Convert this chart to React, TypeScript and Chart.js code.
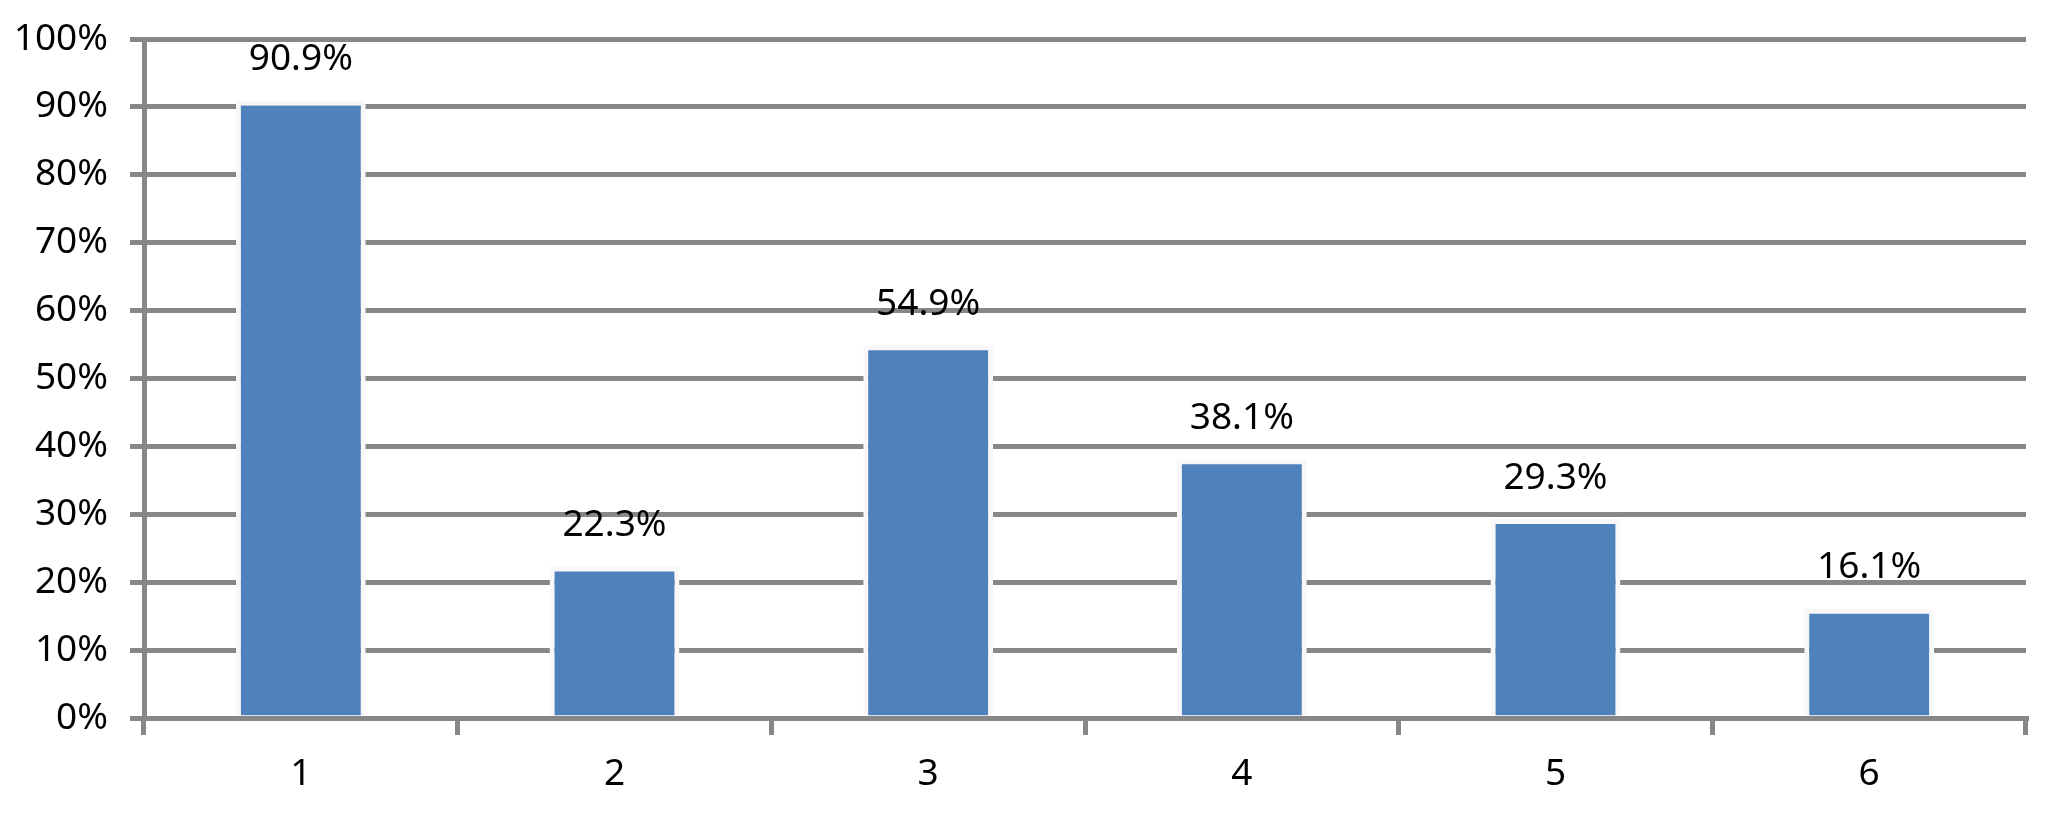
import React, { useEffect, useRef } from "react";
import { Chart, registerables } from "chart.js";

Chart.register(...registerables);

const categories = ["1", "2", "3", "4", "5", "6"];
const values = [90.9, 22.3, 54.9, 38.1, 29.3, 16.1];
const yTicks = [0, 10, 20, 30, 40, 50, 60, 70, 80, 90, 100];

const FONT = "'Noto Sans', 'Open Sans', sans-serif";
const GRID = "#878787";

const valueLabels = {
  id: "valueLabels",
  afterDatasetsDraw(chart: any) {
    const ctx = chart.ctx;
    const meta = chart.getDatasetMeta(0);
    ctx.save();
    ctx.font = `37px ${FONT}`;
    ctx.fillStyle = "#000000";
    ctx.textAlign = "center";
    ctx.textBaseline = "middle";
    meta.data.forEach((bar: any, i: number) => {
      ctx.fillText(values[i].toFixed(1) + "%", bar.x, bar.y - 41);
    });
    ctx.restore();
  },
};

export default function App() {
  const ref = useRef<HTMLCanvasElement>(null);
  useEffect(() => {
    document.body.style.margin = "0";
    const chart = new Chart(ref.current!, {
      type: "bar",
      data: {
        labels: categories,
        datasets: [
          {
            data: values,
            backgroundColor: "#4F81BD",
            borderColor: "#F8F8F8",
            borderWidth: 5,
            barPercentage: 0.414,
            categoryPercentage: 1,
          },
        ],
      },
      options: {
        animation: false,
        responsive: false,
        maintainAspectRatio: false,
        layout: { padding: { top: 39, right: 42, left: 0, bottom: 0 } },
        plugins: { legend: { display: false }, tooltip: { enabled: false } },
        scales: {
          x: {
            offset: true,
            grid: {
              offset: true,
              drawOnChartArea: false,
              drawTicks: true,
              tickLength: 17,
              color: GRID,
              lineWidth: 5,
            },
            border: { display: true, color: GRID, width: 5 },
            ticks: {
              color: "#000000",
              font: { family: FONT, size: 37 },
              padding: 17,
            },
            afterFit: (s: any) => {
              s.height = 100;
              s.paddingLeft = 0;
              s.paddingRight = 0;
            },
          },
          y: {
            min: 0,
            max: 100,
            afterBuildTicks: (s: any) => {
              s.ticks = yTicks.map((v) => ({ value: v }));
            },
            grid: {
              color: GRID,
              lineWidth: 5,
              drawTicks: true,
              tickLength: 14,
            },
            border: { display: true, color: GRID, width: 5 },
            ticks: {
              color: "#000000",
              font: { family: FONT, size: 37 },
              padding: 22,
              callback: (v: any) => v + "%",
            },
            afterFit: (s: any) => {
              s.width = 144;
              s.paddingTop = 0;
              s.paddingBottom = 0;
            },
          },
        },
      },
      plugins: [valueLabels],
    });
    return () => chart.destroy();
  }, []);
  return (
    <div style={{ width: 2068, height: 818, background: "#ffffff" }}>
      <canvas ref={ref} width={2068} height={818} style={{ display: "block" }} />
    </div>
  );
}
